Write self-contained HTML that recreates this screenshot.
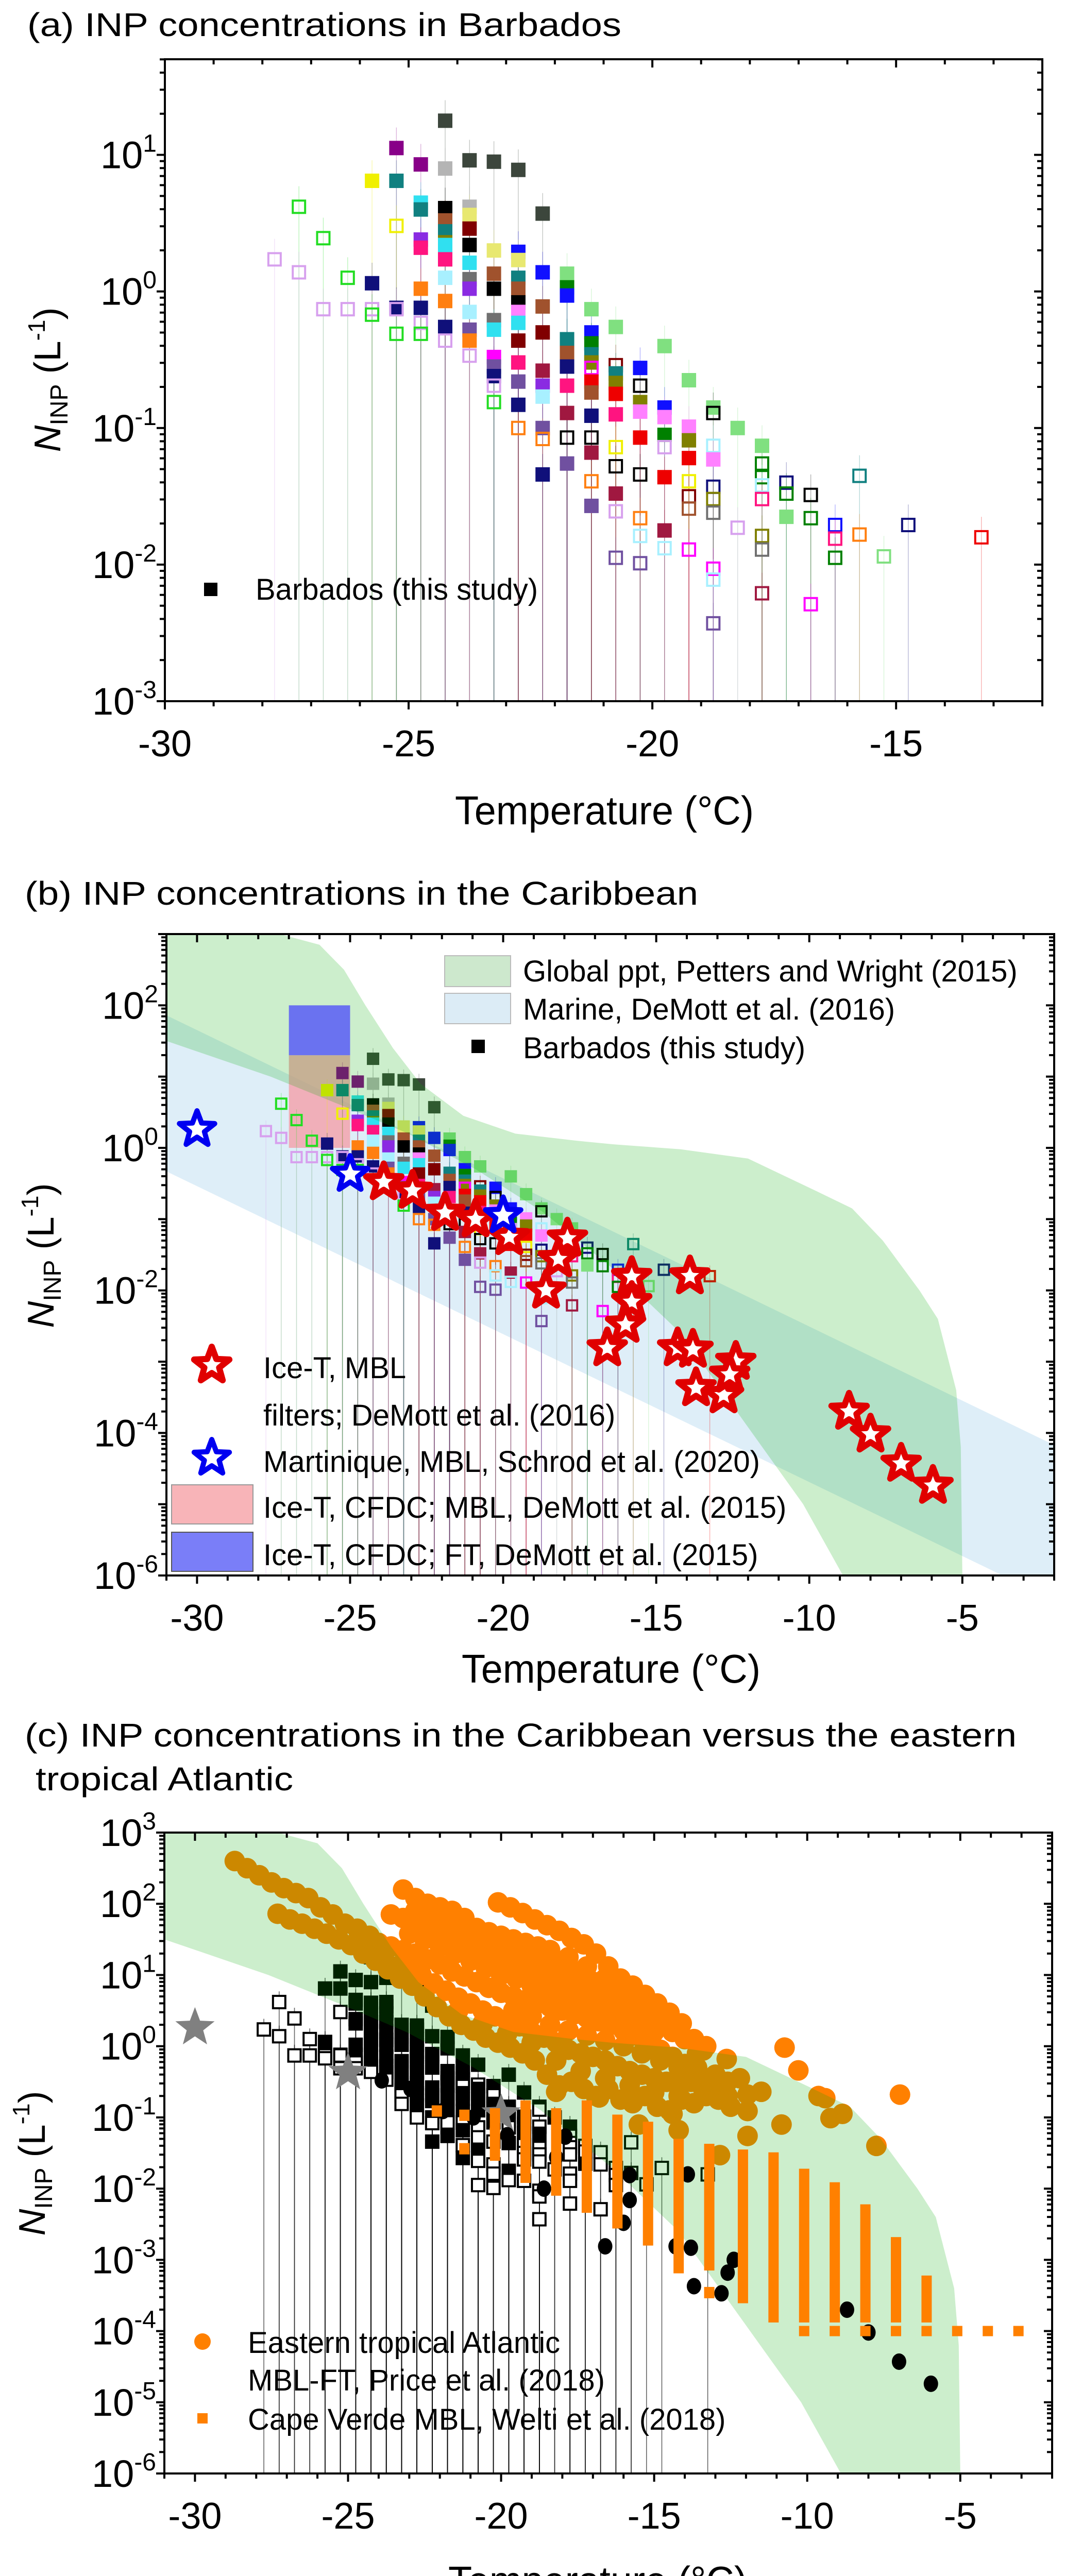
<!DOCTYPE html>
<html><head><meta charset="utf-8"><title>INP concentrations</title>
<style>
html,body{margin:0;padding:0;background:#fff;width:2067px;height:5070px;overflow:hidden;}
svg{display:block;position:absolute;left:0;top:0;font-family:"Liberation Sans",Arial,sans-serif;}
</style></head>
<body>
<svg id="fig" xmlns="http://www.w3.org/2000/svg" width="2067" height="5070" viewBox="0 0 2067 5070">
<rect x="0" y="0" width="2067" height="5070" fill="#fff"/>
<defs>
<clipPath id="clipA"><rect x="320" y="115" width="1703" height="1246"/></clipPath>
<clipPath id="clipB"><rect x="323" y="1813" width="1723" height="1245"/></clipPath>
<clipPath id="clipC"><rect x="319" y="3557" width="1723" height="1244"/></clipPath>
</defs>
<text x="53" y="70" font-size="64" textLength="1153" lengthAdjust="spacingAndGlyphs">(a) INP concentrations in Barbados</text>
<text x="48" y="1756" font-size="64" textLength="1307" lengthAdjust="spacingAndGlyphs">(b) INP concentrations in the Caribbean</text>
<text x="48" y="3390" font-size="64" textLength="1925" lengthAdjust="spacingAndGlyphs">(c) INP concentrations in the Caribbean versus the eastern</text>
<text x="69" y="3475" font-size="64" textLength="500" lengthAdjust="spacingAndGlyphs">tropical Atlantic</text>
<g id="panelA"></g>
<g id="panelB"></g>
<g id="panelC"></g>

<text x="1173" y="1600" font-size="78" text-anchor="middle" textLength="580" lengthAdjust="spacingAndGlyphs">Temperature (°C)</text>
<text x="1186" y="3266" font-size="78" text-anchor="middle" textLength="580" lengthAdjust="spacingAndGlyphs">Temperature (°C)</text>
<text x="1160" y="5036" font-size="78" text-anchor="middle" textLength="580" lengthAdjust="spacingAndGlyphs">Temperature (°C)</text>
<text transform="rotate(-90 92 737)" x="92" y="762" font-size="72" text-anchor="middle"><tspan font-style="italic">N</tspan><tspan font-size="48" dy="14">INP</tspan><tspan dy="-14"> (L</tspan><tspan font-size="46" dy="-30">-1</tspan><tspan dy="30">)</tspan></text>
<text transform="rotate(-90 79 2437)" x="79" y="2462" font-size="72" text-anchor="middle"><tspan font-style="italic">N</tspan><tspan font-size="48" dy="14">INP</tspan><tspan dy="-14"> (L</tspan><tspan font-size="46" dy="-30">-1</tspan><tspan dy="30">)</tspan></text>
<text transform="rotate(-90 62 4199)" x="62" y="4224" font-size="72" text-anchor="middle"><tspan font-style="italic">N</tspan><tspan font-size="48" dy="14">INP</tspan><tspan dy="-14"> (L</tspan><tspan font-size="46" dy="-30">-1</tspan><tspan dy="30">)</tspan></text>

<rect x="396" y="1131" width="26" height="26" fill="#000"/>
<text x="496" y="1164" font-size="58">Barbados (this study)</text>

<text x="1015" y="1905" font-size="58">Global ppt, Petters and Wright (2015)</text>
<text x="1015" y="1979" font-size="58">Marine, DeMott et al. (2016)</text>
<text x="1015" y="2054" font-size="58">Barbados (this study)</text>
<text x="511" y="2675" font-size="58">Ice-T, MBL</text>
<text x="511" y="2767" font-size="58">filters; DeMott et al. (2016)</text>
<text x="511" y="2857" font-size="58">Martinique, MBL, Schrod et al. (2020)</text>
<text x="511" y="2946" font-size="58">Ice-T, CFDC; MBL, DeMott et al. (2015)</text>
<text x="511" y="3038" font-size="58">Ice-T, CFDC; FT, DeMott et al. (2015)</text>
<text x="481" y="4567" font-size="58">Eastern tropical Atlantic</text>
<text x="481" y="4640" font-size="58">MBL-FT, Price et al. (2018)</text>
<text x="481" y="4716" font-size="58">Cape Verde MBL, Welti et al. (2018)</text>
</svg>
<script>
// ---------- DATA ----------
// Barbados INP: [temperature °C, log10 N (L^-1), colour key, filled]
const barbados = [
[-27.75,0.235,'V',0],
[-27.25,0.62,'G',0],[-27.25,0.14,'V',0],
[-26.75,0.39,'G',0],[-26.75,-0.13,'V',0],
[-26.25,0.10,'G',0],[-26.25,-0.13,'V',0],
[-25.75,0.81,'Y',1],[-25.75,0.06,'N',1],[-25.75,-0.13,'V',0],[-25.75,-0.17,'G',0],
[-25.25,1.05,'P',1],[-25.25,0.81,'T',1],[-25.25,0.48,'Y',0],[-25.25,-0.12,'N',1],[-25.25,-0.13,'V',0],[-25.25,-0.31,'G',0],
[-24.75,0.93,'P',1],[-24.75,0.65,'C',1],[-24.75,0.60,'T',1],[-24.75,0.38,'VI',1],[-24.75,0.32,'M',1],[-24.75,0.02,'O',1],[-24.75,-0.12,'N',1],[-24.75,-0.23,'V',0],[-24.75,-0.31,'G',0],
[-24.25,1.25,'DG',1],[-24.25,0.90,'LG',1],[-24.25,0.61,'K',1],[-24.25,0.52,'BR',1],[-24.25,0.44,'T',1],[-24.25,0.36,'OL',1],[-24.25,0.34,'C',1],[-24.25,0.235,'M',1],[-24.25,0.10,'LC',1],[-24.25,-0.07,'O',1],[-24.25,-0.26,'N',1],[-24.25,-0.36,'V',0],
[-23.75,0.96,'DG',1],[-23.75,0.62,'LG',1],[-23.75,0.56,'KH',1],[-23.75,0.46,'DR',1],[-23.75,0.34,'K',1],[-23.75,0.21,'C',1],[-23.75,0.09,'GR',1],[-23.75,0.02,'VI',1],[-23.75,-0.15,'LC',1],[-23.75,-0.28,'PU',1],[-23.75,-0.36,'O',1],[-23.75,-0.47,'V',0],
[-23.25,0.95,'DG',1],[-23.25,0.30,'KH',1],[-23.25,0.13,'BR',1],[-23.25,0.02,'K',1],[-23.25,-0.21,'GR',1],[-23.25,-0.28,'C',1],[-23.25,-0.48,'MG',1],[-23.25,-0.55,'PU',1],[-23.25,-0.62,'N',1],[-23.25,-0.69,'V',0],[-23.25,-0.81,'G',0],
[-22.75,0.89,'DG',1],[-22.75,0.29,'B',1],[-22.75,0.23,'KH',1],[-22.75,0.10,'T',1],[-22.75,0.02,'BR',1],[-22.75,-0.08,'K',1],[-22.75,-0.15,'PK',1],[-22.75,-0.23,'C',1],[-22.75,-0.36,'DR',1],[-22.75,-0.52,'M',1],[-22.75,-0.66,'PU',1],[-22.75,-0.83,'N',1],[-22.75,-1.0,'O',0],
[-22.25,0.57,'DG',1],[-22.25,0.14,'B',1],[-22.25,-0.11,'BR',1],[-22.25,-0.30,'DR',1],[-22.25,-0.58,'MR',1],[-22.25,-0.69,'VI',1],[-22.25,-0.77,'LC',1],[-22.25,-1.0,'PU',1],[-22.25,-1.08,'O',0],[-22.25,-1.34,'N',1],
[-21.75,0.13,'LGR',1],[-21.75,0.03,'GN',1],[-21.75,-0.03,'B',1],[-21.75,-0.35,'T',1],[-21.75,-0.45,'BR',1],[-21.75,-0.55,'N',1],[-21.75,-0.69,'M',1],[-21.75,-0.89,'MR',1],[-21.75,-1.07,'K',0],[-21.75,-1.26,'PU',1],
[-21.25,-0.13,'LGR',1],[-21.25,-0.30,'B',1],[-21.25,-0.38,'GN',1],[-21.25,-0.46,'T',1],[-21.25,-0.52,'OL',1],[-21.25,-0.56,'MG',0],[-21.25,-0.66,'R',1],[-21.25,-0.74,'BR',1],[-21.25,-0.91,'N',1],[-21.25,-1.07,'K',0],[-21.25,-1.18,'MR',1],[-21.25,-1.39,'O',0],[-21.25,-1.57,'PU',1],
[-20.75,-0.26,'LGR',1],[-20.75,-0.54,'DR',0],[-20.75,-0.60,'T',1],[-20.75,-0.67,'OL',1],[-20.75,-0.75,'R',1],[-20.75,-0.90,'M',1],[-20.75,-1.14,'Y',0],[-20.75,-1.28,'K',0],[-20.75,-1.48,'MR',1],[-20.75,-1.61,'V',0],[-20.75,-1.95,'PU',0],
[-20.25,-0.56,'B',1],[-20.25,-0.69,'K',0],[-20.25,-0.81,'OL',1],[-20.25,-0.88,'PK',1],[-20.25,-1.07,'R',1],[-20.25,-1.34,'K',0],[-20.25,-1.66,'O',0],[-20.25,-1.79,'LC',0],[-20.25,-1.99,'PU',0],
[-19.75,-0.40,'LGR',1],[-19.75,-0.85,'B',1],[-19.75,-0.92,'PK',1],[-19.75,-1.05,'GN',1],[-19.75,-1.14,'V',0],[-19.75,-1.36,'R',1],[-19.75,-1.75,'MR',1],[-19.75,-1.88,'LC',0],
[-19.25,-0.65,'LGR',1],[-19.25,-0.99,'PK',1],[-19.25,-1.09,'OL',1],[-19.25,-1.22,'R',1],[-19.25,-1.39,'Y',0],[-19.25,-1.50,'DR',0],[-19.25,-1.59,'BR',0],[-19.25,-1.89,'MG',0],
[-18.75,-0.85,'LGR',1],[-18.75,-0.89,'K',0],[-18.75,-1.13,'LC',0],[-18.75,-1.23,'PK',1],[-18.75,-1.43,'N',0],[-18.75,-1.52,'OL',0],[-18.75,-1.62,'GR',0],[-18.75,-2.03,'MG',0],[-18.75,-2.11,'LC',0],[-18.75,-2.43,'PU',0],
[-18.25,-1.00,'LGR',1],[-18.25,-1.73,'V',0],
[-17.75,-1.13,'LGR',1],[-17.75,-1.26,'GN',0],[-17.75,-1.36,'GN',0],[-17.75,-1.42,'LC',0],[-17.75,-1.52,'M',0],[-17.75,-1.79,'OL',0],[-17.75,-1.89,'GR',0],[-17.75,-2.21,'MR',0],
[-17.25,-1.40,'N',0],[-17.25,-1.48,'GN',0],[-17.25,-1.65,'LGR',1],
[-16.75,-1.49,'K',0],[-16.75,-1.66,'GN',0],[-16.75,-2.29,'MG',0],
[-16.25,-1.71,'B',0],[-16.25,-1.81,'M',0],[-16.25,-1.95,'GN',0],
[-15.75,-1.35,'T',0],[-15.75,-1.78,'O',0],
[-15.25,-1.94,'LGR',0],
[-14.75,-1.71,'N',0],
[-13.25,-1.80,'R',0]
];
const colourKeys = ['V','G','Y','N','P','T','C','M','O','DG','LG','K','BR','OL','LC','GR','VI','KH','DR','B','MR','PU','LGR','GN','R','PK','MG'];
const colourVals = ['#d7a0ee','#22dd22','#f0f000','#10107a','#880088','#108080','#30e0f0','#ff1480','#ff7f10','#3c463c','#b4b4b4','#000000','#a0522d','#808000','#a8f0ff','#707070','#8a2be2','#e8e870','#800000','#1010ff','#a01840','#7050a0','#80e080','#008000','#ee0000','#ff80ff','#ff00ff'];

// DeMott et al. (2016) Ice-T MBL filter data
const iceT_T   = [-23.9,-22.96,-21.9,-20.9,-19.8,-17.9,-18.2,-18.6,-15.8,-15.8,-16.0,-16.6,-13.9,-14.3,-13.8,-13.7,-12.8,-12.4,-12.6,-8.7,-8.0,-7.0,-5.96];
const iceT_log = [-0.48,-0.60,-0.91,-1.00,-1.25,-1.27,-1.56,-2.00,-1.81,-2.16,-2.48,-2.81,-1.80,-2.81,-2.83,-3.37,-3.47,-3.00,-3.18,-3.70,-4.02,-4.43,-4.74];
// Schrod et al. (2020) Martinique
const mart_T   = [-30,-25,-20];
const mart_log = [0.26,-0.37,-0.95];
// DeMott 2015 CFDC boxes: [Tmin, Tmax, logLow, logHigh]
const cfdcMBL = [-27,-25,0,1.3];
const cfdcFT  = [-27,-25,1.3,2.0];
// Petters & Wright (2015) envelope
const pwUpper = [[-31,3],[-27.3,3],[-26,2.85],[-25.2,2.5],[-24.5,2.0],[-23.6,1.4],[-22.7,0.9],[-21.3,0.45],[-19.6,0.2],[-17.6,0.1],[-16.4,0.05],[-14.2,-0.02],[-12,-0.15],[-9.8,-0.6],[-8.6,-0.85],[-7.6,-1.3],[-6.4,-2.0],[-5.8,-2.4],[-5.2,-3.4],[-5.05,-4.2],[-5,-6]];
const pwLower = [[-31,1.5],[-27.6,1.0],[-25.3,0.6],[-23.1,0.2],[-20.9,-0.3],[-18.7,-0.9],[-16.4,-1.7],[-14.2,-2.6],[-12.2,-3.8],[-10.2,-5.0],[-8.9,-6]];
// DeMott (2016) marine band
const marineUpper = [[-31,1.86],[-2,-4.17]];
const marineLower = [[-31,-0.33],[-2,-6.35]];
// Price et al. (2018)
const priceT = [
-23.2,-22.8,-22.4,-22.0,-21.6,-21.2,-20.8,-20.4,-20.0,-19.6,-19.2,-18.8,
-20.1,-19.7,-19.3,-18.9,-18.5,-18.1,-17.7,-17.3,-16.9,-16.5,-16.1,-15.7,-15.3,-14.9,-14.5,-14.1,-13.7,-13.3,
-23.6,-23.2,-22.8,-22.4,-22.0,-21.6,-21.2,-20.8,-20.4,-20.0,-19.6,-19.2,-18.8,-18.4,-18.0,-17.6,-17.2,-16.8,-16.4,-16.0,-15.6,-15.2,-14.8,-14.4,-14.0,-13.6,
-24.4,-24.0,-23.6,-23.2,-22.8,-22.4,-22.0,-21.6,-21.2,-20.8,-20.4,-20.0,-19.6,-19.2,-18.8,-18.4,-18.0,-17.6,-17.2,-16.8,-16.4,-16.0,-15.6,-15.2,-14.8,-14.4,-14.0,-13.6,-13.2,-12.8,
-28.7,-28.3,-27.9,-27.5,-27.1,-26.7,-26.3,-25.9,-25.5,-25.1,-24.7,-24.3,
-27.3,-26.9,-26.5,-26.1,-25.7,-25.3,-24.9,-24.5,-24.1,-23.7,-23.3,-22.9,-22.5,-22.1,-21.7,-21.3,-20.9,-20.5,-20.1,-19.7,-19.3,-18.9,-18.5,-18.1,-17.7,-17.3,-16.9,-16.5,-16.1,-15.7,-15.3,-14.9,-14.5,-14.1,-13.7,-13.3,-12.9,-12.5,
-23.0,-22.6,-22.2,-21.8,-21.4,-21.0,-20.6,-20.2,-19.8,-19.4,-19.0,-18.6,-18.2,-17.8,-17.4,-17.0,-16.6,-16.2,-15.8,-15.4,-15.0,-14.6,-14.2,-13.8,-13.4,-13.0,-12.6,-12.2,
-19.6,-19.0,-18.4,-17.8,-17.2,-16.6,-16.0,-15.4,-14.8,-14.2,-13.6,
-18.4,-17.8,-17.2,-16.6,-16.0,-15.4,-14.8,
-23.0,-22.5,-22.0,-21.5,-21.0,-20.5,-20.0,-19.5,-19.0,-18.5,-18.0,-17.5,-17.0,-16.5,-16.0,-15.5,-15.0,
-22.8,-22.4,-22.0,-21.6,-21.2,-20.8,-20.4,-20.0,-19.6,-19.2,-18.8,-18.4,-18.0,-17.6,-17.2,-16.8,-16.4,-16.0,-15.6,-15.2,-14.8,-14.4,
-24.6,-24.2,-23.8,-23.4,-21.4,-20.6,-19.8,-19.0,-18.2,-17.4,-16.6,-15.8,-15.0,-14.2,-13.4,-12.6,
-10.74,-10.29,-9.63,-9.41,-8.85,-9.24,-6.97,-7.74,-13.4,-12.63,-11.95,-11.5,-10.84,-11.95,-11.95,-12.85,-14.2,-15.5,-16.8,-14.4,-18.2
];
const priceLog = [
2.2,2.08,2.0,1.95,1.9,1.8,1.66,1.6,1.55,1.5,1.45,1.4,
2.02,1.95,1.87,1.78,1.7,1.62,1.52,1.43,1.3,1.12,0.95,0.85,0.72,0.6,0.47,0.32,0.1,0.0,
1.85,1.8,1.75,1.68,1.6,1.5,1.42,1.35,1.28,1.22,1.15,1.1,1.05,1.0,0.92,0.85,0.78,0.7,0.62,0.55,0.48,0.4,0.3,0.2,0.1,-0.1,
1.5,1.45,1.4,1.35,1.3,1.22,1.15,1.05,0.98,0.9,0.82,0.75,0.7,0.65,0.6,0.55,0.5,0.45,0.4,0.35,0.3,0.22,0.15,0.05,-0.05,-0.15,-0.25,-0.3,-0.45,-0.55,
2.6,2.5,2.4,2.3,2.22,2.15,2.08,1.95,1.85,1.72,1.65,1.55,
1.86,1.78,1.72,1.65,1.58,1.5,1.42,1.3,1.2,1.08,0.95,0.85,0.7,0.55,0.42,0.3,0.22,0.12,0.05,-0.02,-0.1,-0.2,-0.4,-0.55,-0.5,-0.6,-0.7,-0.6,-0.75,-0.8,-0.7,-0.85,-0.9,-0.75,-0.8,-0.7,-0.75,-0.85,
1.1,1.0,0.88,0.78,0.68,0.6,0.5,0.42,0.35,0.28,0.2,0.12,0.05,-0.05,-0.1,-0.15,-0.2,-0.28,-0.35,-0.4,-0.45,-0.5,-0.5,-0.5,-0.45,-0.4,-0.5,-0.45,
0.5,0.42,0.3,0.22,0.15,0.08,0.0,-0.1,-0.2,-0.3,-0.3,
1.35,1.25,1.12,0.95,0.8,0.62,0.45,
1.58,1.5,1.4,1.3,1.2,1.1,1.0,0.95,0.85,0.8,0.72,0.65,0.58,0.5,0.42,0.32,0.2,
1.9,1.82,1.78,1.7,1.62,1.52,1.45,1.4,1.33,1.28,1.22,1.18,1.1,1.05,0.98,0.9,0.8,0.7,0.65,0.55,0.45,0.35,
1.4,1.3,1.2,1.12,0.5,0.32,0.18,0.05,-0.2,-0.35,-0.45,-0.55,-0.65,-0.7,-0.6,-0.7,
-0.02,-0.34,-0.70,-0.73,-0.95,-1.01,-0.68,-1.4,-0.06,-0.18,-0.68,-0.64,-1.1,-0.91,-1.26,-1.53,-1.18,-1.1,-0.72,-0.95,-0.64
];
// Welti et al. (2018)
const weltiT   = [-22.1,-21.2,-21.2,-20.2,-19.2,-18.2,-17.2,-16.2,-15.2,-14.2,-13.2,-13.2,-12.1,-11.1,-10.1,-9.1,-8.1,-7.1,-6.1];
const weltiTop = [-0.91,-0.97,-1.44,-0.95,-0.84,-0.95,-0.84,-1.04,-1.14,-1.38,-1.45,-3.46,-1.53,-1.57,-1.80,-1.99,-2.30,-2.76,-3.30];
const weltiBot = [-0.91,-0.97,-1.44,-1.53,-1.84,-2.02,-2.26,-2.48,-2.72,-3.11,-3.07,-3.46,-3.53,-3.80,-3.80,-3.80,-3.80,-3.80,-3.80];
const weltiFloorT = [-10.1,-9.1,-8.1,-7.1,-6.1,-5.1,-4.1,-3.1];
const weltiFloorLog = [-4,-4,-4,-4,-4,-4,-4,-4];
// tick labels
const xLabelsA = [-30,-25,-20,-15];
const xLabelsBC = [-30,-25,-20,-15,-10,-5];
const yLabelsA = [-3,-2,-1,0,1];
const yLabelsB = [-6,-4,-2,0,2];
const yLabelsC = [-6,-5,-4,-3,-2,-1,0,1,2,3];

// ---------- DRAWING ----------
const NS = 'http://www.w3.org/2000/svg';
function mk(tag, attrs, parent){
  const e = document.createElementNS(NS, tag);
  for (const k in attrs) e.setAttribute(k, attrs[k]);
  parent.appendChild(e);
  return e;
}
function axes(c){
  c.sx = v => c.L + (v - c.x0) / (c.x1 - c.x0) * (c.R - c.L);
  c.sy = v => c.B - (v - c.y0) / (c.y1 - c.y0) * (c.B - c.T);
  return c;
}
function clr(k){ return colourVals[colourKeys.indexOf(k)]; }
function starPts(cx, cy, R){
  const pts = [];
  for (let i = 0; i < 10; i++){
    const r = i % 2 ? R * 0.42 : R;
    const a = -Math.PI/2 + i * Math.PI/5;
    pts.push((cx + r*Math.cos(a)).toFixed(1) + ',' + (cy + r*Math.sin(a)).toFixed(1));
  }
  return pts.join(' ');
}
function band(c, up, lo, fill, op, parent, name){
  const pts = up.map(p => c.sx(p[0]) + ',' + c.sy(p[1])).concat(lo.slice().reverse().map(p => c.sx(p[0]) + ',' + c.sy(p[1])));
  const e = mk('polygon', {points: pts.join(' '), fill: fill, 'fill-opacity': op}, parent);
  
  
}
function drawBarbados(c, g, half, mono){
  barbados.forEach(p => {
    const x = c.sx(p[0]);
    const col = mono ? '#000' : clr(p[2]);
    const eb = mk('line', {x1: x, x2: x, y1: c.sy(p[1] + 0.15), y2: c.B, stroke: col, 'stroke-width': mono ? 1.6 : 1.4, 'stroke-opacity': mono ? 0.6 : 0.3}, g);
    
    
  });
  barbados.forEach(p => {
    const x = c.sx(p[0]), y = c.sy(p[1]);
    const col = mono ? '#000' : clr(p[2]);
    const r = p[3] ? mk('rect', {x: x-half, y: y-half, width: 2*half, height: 2*half, fill: col}, g)
                   : mk('rect', {x: x-half+2, y: y-half+2, width: 2*half-4, height: 2*half-4, fill: mono ? '#fff' : 'none', stroke: col, 'stroke-width': 4}, g);
    
    
  });
}
function frame(c, g, xLabels, yLabels, xMinorStep){
  const fr = mk('rect', {x: c.L, y: c.T, width: c.R - c.L, height: c.B - c.T, fill: 'none', stroke: '#000', 'stroke-width': 4}, g);
  
  
  for (let v = Math.ceil(c.x0); v <= c.x1 + 1e-6; v += xMinorStep){
    const major = Math.abs(v % 5) < 1e-6;
    const x = c.sx(v), len = major ? 16 : 10;
    const t1 = mk('line', {x1: x, x2: x, y1: c.B, y2: c.B + len, stroke: '#000', 'stroke-width': 4}, g);
    
    
    const t2 = mk('line', {x1: x, x2: x, y1: c.T, y2: c.T + len, stroke: '#000', 'stroke-width': 4}, g);
    
    
  }
  xLabels.forEach(v => {
    const t = mk('text', {x: c.sx(v), y: c.B + 107, 'font-size': 72, 'text-anchor': 'middle'}, g);
    t.textContent = String(v);
    
    
  });
  for (let d = Math.floor(c.y0); d <= Math.ceil(c.y1); d++){
    for (let m = 1; m <= 9; m++){
      const v = d + Math.log10(m);
      if (v < c.y0 - 1e-6 || v > c.y1 + 1e-6) continue;
      const y = c.sy(v), len = m === 1 ? 16 : 10;
      const t1 = mk('line', {x1: c.L, x2: c.L - len, y1: y, y2: y, stroke: '#000', 'stroke-width': 4}, g);
      
      
      const t2 = mk('line', {x1: c.R, x2: c.R - len, y1: y, y2: y, stroke: '#000', 'stroke-width': 4}, g);
      
      
    }
  }
  yLabels.forEach(v => {
    const t = mk('text', {x: c.L - 16, y: c.sy(v) + 26, 'font-size': 74, 'text-anchor': 'end'}, g);
    const a = mk('tspan', {}, t); a.textContent = '10';
    const b = mk('tspan', {dy: -32, 'font-size': 48}, t); b.textContent = String(v);
    
    
  });
}

// ---- Panel A ----
const A = axes({L:320, R:2023, T:115, B:1361, x0:-30, x1:-12, y0:-3, y1:1.70});
const gA = document.getElementById('panelA');
const gAc = mk('g', {'clip-path': 'url(#clipA)'}, gA);
drawBarbados(A, gAc, 14, false);
frame(A, gA, xLabelsA, yLabelsA, 1);

// ---- Panel B ----
const B = axes({L:323, R:2046, T:1813, B:3058, x0:-31, x1:-2, y0:-6, y1:3});
const gB = document.getElementById('panelB');
const gBc = mk('g', {'clip-path': 'url(#clipB)'}, gB);
band(B, marineUpper, marineLower, '#5aa8dc', 0.2, gBc, 'marine-demott-band');
const rMBL = mk('rect', {x: B.sx(cfdcMBL[0]), y: B.sy(cfdcMBL[3]), width: B.sx(cfdcMBL[1]) - B.sx(cfdcMBL[0]), height: B.sy(cfdcMBL[2]) - B.sy(cfdcMBL[3]), fill: '#f59aa4', 'fill-opacity': 0.75}, gBc);


drawBarbados(B, gBc, 12, false);
band(B, pwUpper, pwLower, '#00a800', 0.2, gBc, 'petters-wright-band');
const rFT = mk('rect', {x: B.sx(cfdcFT[0]), y: B.sy(cfdcFT[3]), width: B.sx(cfdcFT[1]) - B.sx(cfdcFT[0]), height: B.sy(cfdcFT[2]) - B.sy(cfdcFT[3]), fill: '#6a72f0'}, gBc);


iceT_T.forEach((t, i) => {
  const s = mk('polygon', {points: starPts(B.sx(t), B.sy(iceT_log[i]), 36), fill: '#fff', stroke: '#e00000', 'stroke-width': 12, 'stroke-linejoin': 'round'}, gBc);
  
  
});
mart_T.forEach((t, i) => {
  const s = mk('polygon', {points: starPts(B.sx(t), B.sy(mart_log[i]), 36), fill: '#fff', stroke: '#0000f0', 'stroke-width': 10, 'stroke-linejoin': 'round'}, gBc);
  
  
});
frame(B, gB, xLabelsBC, yLabelsB, 1);
(function(){
  const items = [
    ['rect', {x:863, y:1855, width:128, height:60, fill:'#cde8cd', stroke:'#bbb', 'stroke-width':2}, 'legend-global-ppt-swatch'],
    ['rect', {x:863, y:1928, width:128, height:59, fill:'#dcecf6', stroke:'#bbb', 'stroke-width':2}, 'legend-marine-swatch'],
    ['rect', {x:915, y:2018, width:26, height:26, fill:'#000'}, 'legend-barbados-marker'],
    ['rect', {x:333, y:2882, width:158, height:76, fill:'#f8b4b8', stroke:'#999', 'stroke-width':2}, 'legend-cfdc-mbl-swatch'],
    ['rect', {x:333, y:2974, width:158, height:76, fill:'#7a7ef8', stroke:'#555', 'stroke-width':2}, 'legend-cfdc-ft-swatch']
  ];
  items.forEach(it => {
    const e = mk(it[0], it[1], gB);
    
    
  });
  const s1 = mk('polygon', {points: starPts(411, 2650, 36), fill:'#fff', stroke:'#e00000', 'stroke-width':12, 'stroke-linejoin':'round'}, gB);
  
  
  const s2 = mk('polygon', {points: starPts(411, 2830, 36), fill:'#fff', stroke:'#0000f0', 'stroke-width':10, 'stroke-linejoin':'round'}, gB);
  
  
})();

// ---- Panel C ----
const C = axes({L:319, R:2042, T:3557, B:4801, x0:-31, x1:-2, y0:-6, y1:3});
const gC = document.getElementById('panelC');
const gCc = mk('g', {'clip-path': 'url(#clipC)'}, gC);
drawBarbados(C, gCc, 14, true);
priceT.forEach((t, i) => {
  const e = mk('circle', {cx: C.sx(t), cy: C.sy(priceLog[i]), r: 20, fill: '#ff8000'}, gCc);
  
  
});
band(C, pwUpper, pwLower, '#00a800', 0.2, gCc, 'petters-wright-band');
mart_T.forEach((t, i) => {
  const s = mk('polygon', {points: starPts(C.sx(t), C.sy(mart_log[i]), 40), fill: '#808080'}, gCc);
  
  
});
iceT_T.forEach((t, i) => {
  const e = mk('ellipse', {cx: C.sx(t), cy: C.sy(iceT_log[i]), rx: 14, ry: 16, fill: '#000'}, gCc);
  
  
});
weltiT.forEach((t, i) => {
  const y1 = C.sy(weltiTop[i]) - 11, y2 = C.sy(weltiBot[i]) + 11;
  const e = mk('rect', {x: C.sx(t) - 10, y: y1, width: 20, height: y2 - y1, fill: '#ff8000'}, gCc);
  
  
});
weltiFloorT.forEach((t, i) => {
  const e = mk('rect', {x: C.sx(t) - 10, y: C.sy(weltiFloorLog[i]) - 10, width: 20, height: 20, fill: '#ff8000'}, gCc);
  
  
});
frame(C, gC, xLabelsBC, yLabelsC, 1);
(function(){
  const c1 = mk('circle', {cx:393, cy:4545, r:16, fill:'#ff8000'}, gC);
  
  
  const r1 = mk('rect', {x:383, y:4684, width:20, height:20, fill:'#ff8000'}, gC);
  
  
})();
</script>
</body></html>
